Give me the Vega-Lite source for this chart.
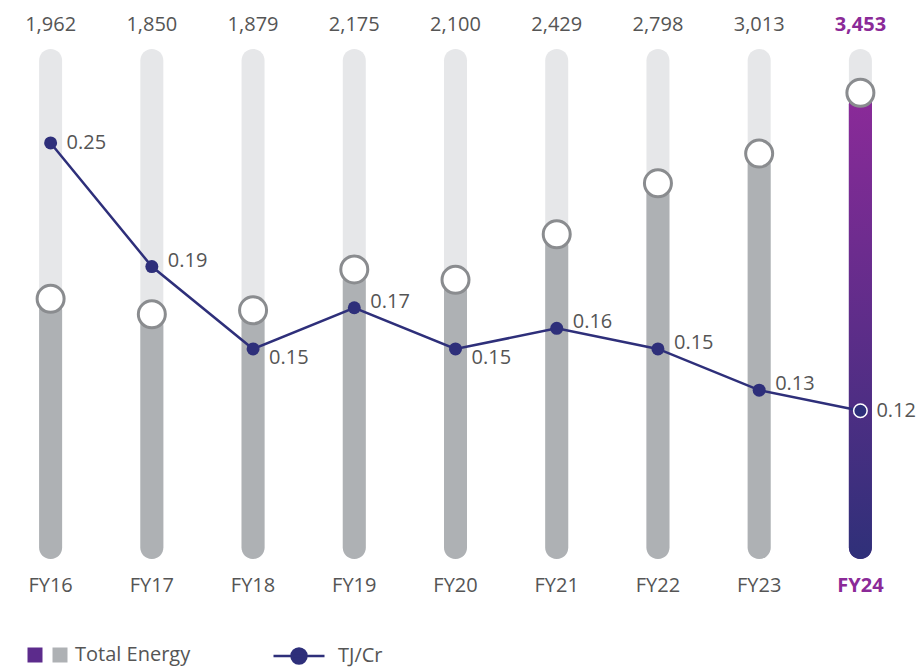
{
  "$schema": "https://vega.github.io/schema/vega-lite/v6.json",
  "width": 911,
  "height": 521,
  "autosize": "none",
  "padding": {"left": 0, "top": 49, "right": 11, "bottom": 100},
  "background": "white",
  "config": {
    "view": {"stroke": null},
    "font": "Open Sans",
    "legend": {"padding": 0, "labelFont": "Open Sans", "labelFontSize": 20, "labelColor": "#555555", "title": null}
  },
  "data": {
    "values": [
      {"FY": "FY16", "energy": 1962, "tj": 0.25, "kind": "Total Energy", "series": "TJ/Cr"},
      {"FY": "FY17", "energy": 1850, "tj": 0.19, "kind": "Total Energy", "series": "TJ/Cr"},
      {"FY": "FY18", "energy": 1879, "tj": 0.15, "kind": "Total Energy", "series": "TJ/Cr"},
      {"FY": "FY19", "energy": 2175, "tj": 0.17, "kind": "Total Energy", "series": "TJ/Cr"},
      {"FY": "FY20", "energy": 2100, "tj": 0.15, "kind": "Total Energy", "series": "TJ/Cr"},
      {"FY": "FY21", "energy": 2429, "tj": 0.16, "kind": "Total Energy", "series": "TJ/Cr"},
      {"FY": "FY22", "energy": 2798, "tj": 0.15, "kind": "Total Energy", "series": "TJ/Cr"},
      {"FY": "FY23", "energy": 3013, "tj": 0.13, "kind": "Total Energy", "series": "TJ/Cr"},
      {"FY": "FY24", "energy": 3453, "tj": 0.12, "kind": "hl", "series": "TJ/Cr"}
    ]
  },
  "encoding": {
    "x": {
      "field": "FY", "type": "nominal", "sort": null,
      "scale": {"paddingInner": 0, "paddingOuter": 0},
      "axis": {
        "title": null, "domain": false, "ticks": false, "labelAngle": 0,
        "labelFontSize": 20, "labelPadding": 5, "labelFont": "Open Sans",
        "labelColor": {"condition": {"test": "datum.value == 'FY24'", "value": "#8b2a98"}, "value": "#555555"},
        "labelFontWeight": {"condition": {"test": "datum.value == 'FY24'", "value": "bold"}, "value": "normal"}
      }
    }
  },
  "layer": [
    {
      "mark": {"type": "bar", "width": 23, "cornerRadius": 11.5, "color": "#e6e7e9"},
      "encoding": {
        "y": {"datum": 3770, "type": "quantitative", "scale": {"domain": [0, 3770], "nice": false, "zero": false}, "axis": null},
        "y2": {"datum": 80}
      }
    },
    {
      "mark": {"type": "bar", "width": 23, "cornerRadius": 11.5},
      "encoding": {
        "y": {"field": "energy", "type": "quantitative", "scale": {"domain": [0, 3770], "nice": false, "zero": false}, "axis": null},
        "y2": {"datum": 80},
        "color": {
          "field": "kind", "type": "nominal",
          "scale": {"domain": ["hl", "Total Energy"], "range": ["#5c2b8c", "#aeb1b4"]},
          "legend": {
            "orient": "none", "legendX": 25, "legendY": 596, "direction": "horizontal",
            "symbolType": "square", "symbolSize": 225, "symbolStrokeWidth": 0, "labelOffset": 5, "columnPadding": 0,
            "labelExpr": "datum.label == 'hl' ? '' : '  ' + datum.label"
          }
        }
      }
    },
    {
      "transform": [{"filter": "datum.FY == 'FY24'"}],
      "mark": {
        "type": "bar", "width": 23, "cornerRadius": 11.5,
        "color": {"gradient": "linear", "x1": 0, "y1": 0, "x2": 0, "y2": 1,
          "stops": [{"offset": 0, "color": "#8c2a99"}, {"offset": 1, "color": "#2f3079"}]}
      },
      "encoding": {
        "y": {"field": "energy", "type": "quantitative", "scale": {"domain": [0, 3770], "nice": false, "zero": false}, "axis": null},
        "y2": {"datum": 80}
      }
    },
    {
      "mark": {"type": "point", "shape": "circle", "filled": false, "fill": "white", "stroke": "#8a8c8f", "strokeWidth": 3, "size": 729, "opacity": 1},
      "encoding": {
        "y": {"field": "energy", "type": "quantitative", "scale": {"domain": [0, 3770], "nice": false, "zero": false}, "axis": null}
      }
    },
    {
      "transform": [{"filter": "datum.FY != 'FY24'"}],
      "mark": {"type": "text", "fontSize": 20, "color": "#555555", "baseline": "middle", "dy": -24},
      "encoding": {
        "y": {"datum": 3770, "type": "quantitative", "scale": {"domain": [0, 3770], "nice": false, "zero": false}, "axis": null},
        "text": {"field": "energy", "type": "quantitative", "format": ","}
      }
    },
    {
      "transform": [{"filter": "datum.FY == 'FY24'"}],
      "mark": {"type": "text", "fontSize": 20, "fontWeight": "bold", "color": "#8b2a98", "baseline": "middle", "dy": -24},
      "encoding": {
        "y": {"datum": 3770, "type": "quantitative", "scale": {"domain": [0, 3770], "nice": false, "zero": false}, "axis": null},
        "text": {"field": "energy", "type": "quantitative", "format": ","}
      }
    },
    {
      "mark": {"type": "line", "strokeWidth": 2.5},
      "encoding": {
        "y": {"field": "tj", "type": "quantitative", "scale": {"domain": [0.0427, 0.2956], "nice": false, "zero": false}, "axis": null},
        "color": {
          "field": "series", "type": "nominal",
          "scale": {"range": ["#2e2f7a"]},
          "legend": {
            "orient": "none", "legendX": 272, "legendY": 580, "direction": "horizontal",
            "symbolType": "M-1,0L1,0M-0.294,0A0.294,0.294 0 1,0 0.294,0A0.294,0.294 0 1,0 -0.294,0Z",
            "symbolSize": 2601, "symbolStrokeWidth": 2.5, "symbolFillColor": "#2e2f7a",
            "labelOffset": 12
          }
        }
      }
    },
    {
      "mark": {"type": "point", "shape": "circle", "filled": true, "size": 169, "opacity": 1, "color": "#2e2f7a"},
      "encoding": {
        "y": {"field": "tj", "type": "quantitative", "scale": {"domain": [0.0427, 0.2956], "nice": false, "zero": false}, "axis": null}
      }
    },
    {
      "transform": [{"filter": "datum.FY == 'FY24'"}],
      "mark": {"type": "point", "shape": "circle", "filled": false, "fill": "#2e2f7a", "stroke": "white", "strokeWidth": 1.5, "size": 182, "opacity": 1},
      "encoding": {
        "y": {"field": "tj", "type": "quantitative", "scale": {"domain": [0.0427, 0.2956], "nice": false, "zero": false}, "axis": null}
      }
    },
    {
      "mark": {"type": "text", "fontSize": 20, "color": "#555555", "align": "left", "baseline": "middle", "dx": 16,
        "dy": {"expr": "datum.FY == 'FY18' || datum.FY == 'FY20' ? 9 : (datum.FY == 'FY16' || datum.FY == 'FY24' ? 0 : -6)"}},
      "encoding": {
        "y": {"field": "tj", "type": "quantitative", "scale": {"domain": [0.0427, 0.2956], "nice": false, "zero": false}, "axis": null},
        "text": {"field": "tj", "type": "quantitative", "format": ".2f"}
      }
    }
  ],
  "resolve": {"scale": {"y": "independent", "color": "independent"}}
}
